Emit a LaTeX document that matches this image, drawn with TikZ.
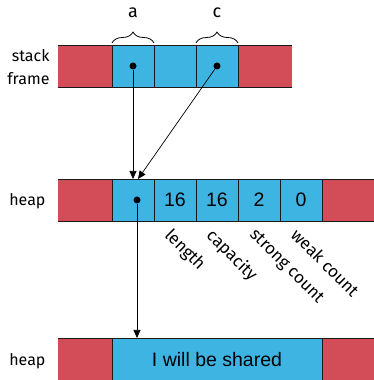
\documentclass[tikz,border=0pt]{standalone}
\usepackage{fontspec}
\usepackage{tikz}
\usetikzlibrary{positioning,arrows.meta,calc,decorations.pathreplacing}
\newfontfamily\labelfont{Fira Sans}
\newfontfamily\cellfont{Liberation Sans}
\definecolor{cellblue}{HTML}{3EB4E3}
\definecolor{padred}{HTML}{D24D57}
\definecolor{edgegray}{HTML}{1A1A1A}

\begin{document}
\begin{tikzpicture}[x=1pt,y=1pt,
    cell/.style={draw=edgegray, fill=cellblue, line width=0.8pt, inner sep=0pt, outer sep=0pt,
      minimum width=42pt, minimum height=42pt, font=\cellfont\fontsize{19.5}{22}\selectfont},
    lbl/.style={font=\labelfont\fontsize{16}{23}\selectfont},
    field/.style={font=\labelfont\fontsize{17}{20}\selectfont, rotate=-45, anchor=north west, inner sep=0pt},
    ptr/.style={-{Triangle[length=8pt,width=7pt]}, line width=0.7pt},
    dot/.style={circle, fill=black, inner sep=0pt, minimum size=7pt},
    cbrace/.style={decorate, decoration={brace, amplitude=11pt}, line width=0.8pt}]
    \clip (0,0) rectangle (374,380);
    % stack frame
    \fill[padred] (58,293) rectangle (112,335);
    \fill[padred] (238,293) rectangle (292,335);
    \draw[edgegray, line width=0.8pt] (58,293) -- (292,293) (58,335) -- (292,335);
    \node[cell] (s1) at (133,314) {};
    \node[cell] (s2) at (175,314) {};
    \node[cell] (s3) at (217,314) {};
    \node[dot] (pa) at (s1.center) {};
    \node[dot] (pc) at (s3.center) {};
    \draw[cbrace] ([yshift=2pt]s1.north west) -- ([yshift=2pt]s1.north east);
    \draw[cbrace] ([yshift=2pt]s3.north west) -- ([yshift=2pt]s3.north east);
    \node[lbl, font=\labelfont\fontsize{18}{20}\selectfont] (na) at (133,367) {a};
    \node[lbl, font=\labelfont\fontsize{18}{20}\selectfont] (nc) at (217,367) {c};
    \node[lbl, align=right, anchor=east] (stk) at (53,313) {stack\\frame};
    % heap: rc box
    \fill[padred] (58,159) rectangle (112,201);
    \fill[padred] (322,159) rectangle (380,201);
    \draw[edgegray, line width=0.8pt] (58,159) -- (380,159) (58,201) -- (380,201);
    \node[cell] (h1) at (133,180) {};
    \node[cell] (h2) at (175,180) {16};
    \node[cell] (h3) at (217,180) {16};
    \node[cell] (h4) at (259,180) {2};
    \node[cell] (h5) at (301,180) {0};
    \node[dot] (ph) at ([xshift=4pt]h1.center) {};
    \node[lbl, anchor=east] (hp1) at (49,179) {heap};
    \node[field] (f1) at ([xshift=-2pt,yshift=-6pt]h2.south) {length};
    \node[field] (f2) at ([xshift=-2pt,yshift=-6pt]h3.south) {capacity};
    \node[field] (f3) at ([xshift=-2pt,yshift=-6pt]h4.south) {strong count};
    \node[field] (f4) at ([xshift=-2pt,yshift=-6pt]h5.south) {weak count};
    % heap: shared data
    \fill[padred] (58,-2) rectangle (112,42);
    \fill[padred] (322,-2) rectangle (380,42);
    \draw[edgegray, line width=0.8pt] (58,42) -- (380,42);
    \node[cell, minimum width=210pt, minimum height=44pt] (buf) at (217,20) {I will be shared};
    \node[lbl, anchor=east] (hp2) at (49,19) {heap};
    % pointers
    \draw[ptr] (pa) -- (pa |- h1.north);
    \draw[ptr] (pc) -- ([xshift=5pt]h1.north);
    \draw[ptr] (ph) -- (ph |- buf.north);
\end{tikzpicture}
\end{document}
